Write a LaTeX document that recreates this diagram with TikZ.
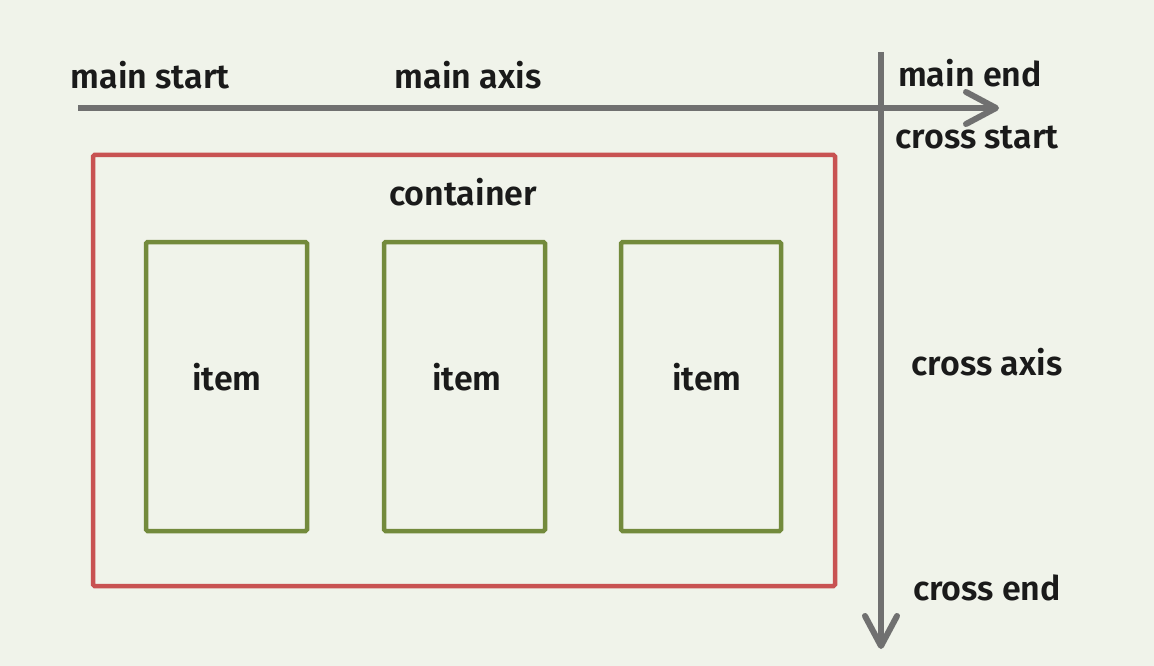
\documentclass[tikz,border=0pt]{standalone}
\usepackage{fontspec}
\setmainfont{Fira Sans}[UprightFont=* SemiBold]
\usetikzlibrary{arrows.meta}
\definecolor{bgc}{HTML}{F0F3EA}
\definecolor{redc}{HTML}{C85252}
\definecolor{greenc}{HTML}{738A3C}
\definecolor{grayc}{HTML}{707070}
\definecolor{txtc}{HTML}{1A1A1A}
\tikzset{
  axisline/.style={draw=grayc,line width=6pt,-{Straight Barb[length=30pt,width=32pt,round]}},
  lbl/.style={font=\fontsize{34}{38}\selectfont,text=txtc,inner sep=0pt},
  itembox/.style={draw=greenc,line width=4.5pt,rounded corners=1.5pt},
  contbox/.style={draw=redc,line width=4.5pt,rounded corners=1.5pt}
}
\begin{document}
\begin{tikzpicture}[x=1pt,y=-1pt]
\fill[bgc] (0,0) rectangle (1154,666);
\useasboundingbox (0,0) rectangle (1154,666);
\coordinate (hs) at (78,108);
\coordinate (he) at (999,108);
\coordinate (vs) at (881,52);
\coordinate (ve) at (881,649);
\draw[axisline] (hs) -- (he);
\draw[axisline] (vs) -- (ve);
\draw[contbox] (93,155) rectangle (835,586);
\draw[itembox] (146,242) rectangle (307,531);
\draw[itembox] (384,242) rectangle (545,531);
\draw[itembox] (621,242) rectangle (781,531);
\node[lbl] (ms) at (150,75) {main start};
\node[lbl] (ma) at (468,75) {main axis};
\node[lbl] (me) at (970,73) {main end};
\node[lbl] (cs) at (977,138) {cross start};
\node[lbl] (ct) at (463,192) {container};
\node[lbl] (i1) at (227,377) {item};
\node[lbl] (i2) at (467,377) {item};
\node[lbl] (i3) at (707,377) {item};
\node[lbl] (ca) at (987,362) {cross axis};
\node[lbl] (ce) at (987,588) {cross end};
\end{tikzpicture}
\end{document}
